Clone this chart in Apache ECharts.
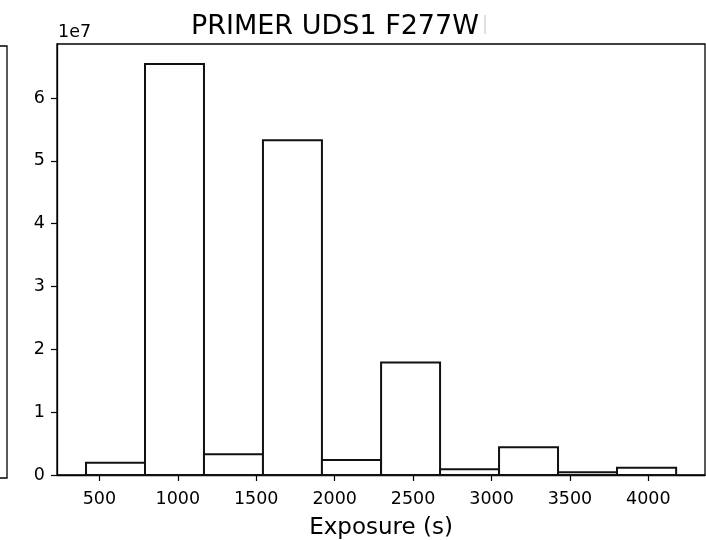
<!DOCTYPE html>
<html>
<head>
<meta charset="utf-8">
<script src="https://cdn.jsdelivr.net/npm/echarts@6/dist/echarts.min.js"></script>
<style>html,body{margin:0;padding:0;background:#fff;}#c{width:706px;height:540px;}</style>
</head>
<body>
<div id="c"></div>
<script>
// Histogram bin edges (seconds) and counts
const binEdges = [415, 791, 1167, 1543, 1919, 2296, 2672, 3048, 3424, 3800, 4177];
const counts = [1.96e6, 6.54e7, 3.3e6, 5.33e7, 2.4e6, 1.79e7, 0.9e6, 4.4e6, 0.43e6, 1.16e6];
const xTicks = [500, 1000, 1500, 2000, 2500, 3000, 3500, 4000];
const yTicks = [0, 1e7, 2e7, 3e7, 4e7, 5e7, 6e7];
const titleText = 'PRIMER UDS1 F277W';
const xLabel = 'Exposure (s)';
const offsetText = '1e7';

const data = counts.map((c, i) => [binEdges[i], binEdges[i + 1], c]);
const FONT = 'DejaVu Sans';
const chart = echarts.init(document.getElementById('c'), null, {renderer: 'canvas'});
chart.setOption({
  animation: false,
  backgroundColor: '#fff',
  title: {
    text: titleText, left: 186, top: 8,
    textStyle: {fontFamily: FONT, fontSize: 27, fontWeight: 'normal', color: '#000'}
  },
  grid: {left: 57, right: 1, top: 44, height: 431, show: true, borderColor: '#000', borderWidth: 1.3,
    backgroundColor: 'transparent', containLabel: false, outerBoundsMode: 'none'},
  xAxis: {
    type: 'value', min: 230, max: 4361,
    splitLine: {show: false},
    axisLine: {show: true, onZero: false, lineStyle: {color: '#000', width: 1.3}},
    axisTick: {show: true, length: 6, customValues: xTicks, lineStyle: {color: '#000', width: 1.2}},
    axisLabel: {customValues: xTicks, margin: 15, fontFamily: FONT, fontSize: 17.5, color: '#000',
      formatter: v => String(Math.round(v))},
    name: xLabel, nameLocation: 'middle', nameGap: 42,
    nameTextStyle: {fontFamily: FONT, fontSize: 23, color: '#000'}
  },
  yAxis: {
    type: 'value', min: 0, max: 6.86e7,
    splitLine: {show: false},
    axisLine: {show: true, lineStyle: {color: '#000', width: 1.3}},
    axisTick: {show: true, length: 6, customValues: yTicks, lineStyle: {color: '#000', width: 1.2}},
    axisLabel: {customValues: yTicks, margin: 12, fontFamily: FONT, fontSize: 17.5, color: '#000',
      formatter: v => String(Math.round(v / 1e7))}
  },
  graphic: [
    {type: 'text', left: 58, top: 23, style: {text: offsetText, font: '17.5px "DejaVu Sans"', fill: '#000'}},
    {type: 'rect', shape: {x: -10, y: 46, width: 17, height: 432}, style: {fill: 'none', stroke: '#000', lineWidth: 1.3}},
    {type: 'rect', shape: {x: 484, y: 15, width: 2, height: 19}, style: {fill: '#e0e0e0'}}
  ],
  series: [{
    type: 'custom',
    data: data,
    encode: {x: [0, 1], y: 2},
    renderItem: function (params, api) {
      const p0 = api.coord([api.value(0), api.value(2)]);
      const p1 = api.coord([api.value(1), 0]);
      return {
        type: 'rect',
        shape: {x: p0[0], y: p0[1], width: p1[0] - p0[0], height: p1[1] - p0[1]},
        style: {fill: '#fff', stroke: '#111', lineWidth: 2}
      };
    }
  }]
});
</script>
</body>
</html>
